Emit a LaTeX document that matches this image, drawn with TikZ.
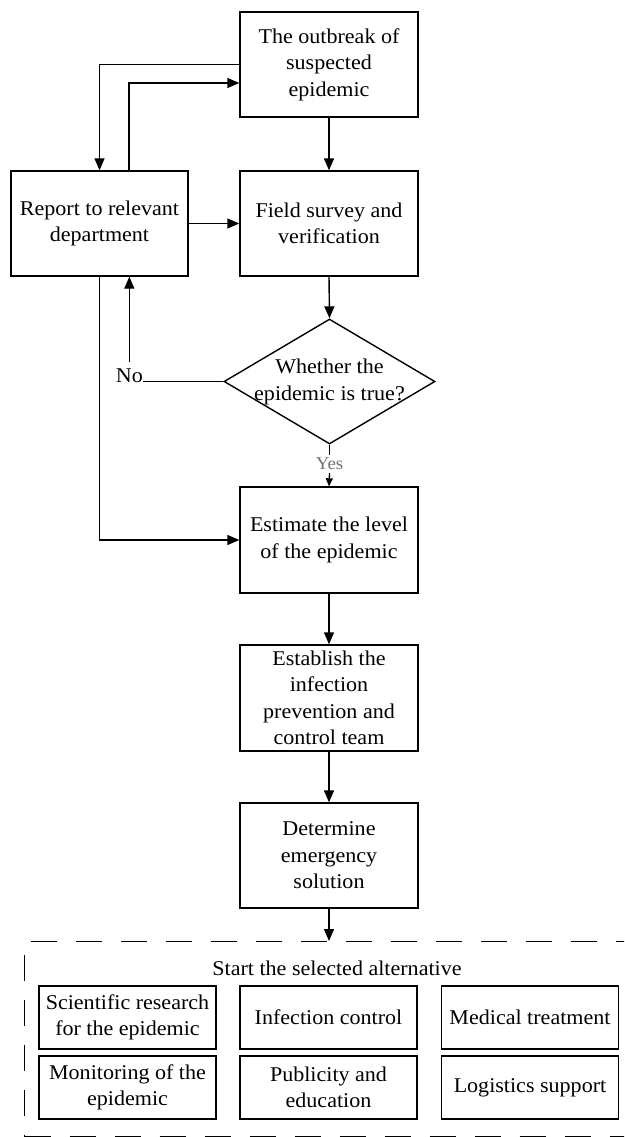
\documentclass[tikz,border=0pt]{standalone}
\usepackage{fontspec}
\setmainfont{Liberation Serif}[FakeStretch=1.05]
\usetikzlibrary{shapes.geometric,arrows.meta}
\begin{document}
\begin{tikzpicture}[x=1pt,y=-1pt,
  font=\fontsize{21}{26.5}\selectfont,
  box/.style={draw, line width=1.4pt, minimum width=178pt, minimum height=105pt, inner sep=0pt, align=center},
  sbox/.style={draw, line width=1.4pt, minimum width=177pt, minimum height=63pt, inner sep=0pt, align=center},
  dshape/.style={draw, diamond, line width=1.4pt, minimum width=211pt, minimum height=125pt, inner sep=0pt},
  arr/.style={line width=1.4pt, -{Triangle[length=12pt,width=10pt]}},
  sarr/.style={line width=1.3pt, -{Triangle[length=8pt,width=7pt]}},
  ln/.style={line width=1.4pt},
  yeslbl/.style={text=black!55, font=\fontsize{18}{20}\selectfont, inner xsep=0pt, inner ysep=3pt},
  altbox/.style={draw, line width=1.4pt, dash pattern=on 26pt off 19pt, minimum width=616pt, minimum height=195pt, inner sep=0pt, anchor=north west}]
\fill[white] (0,0) rectangle (624,1137);
\useasboundingbox (0,0) rectangle (624,1137);
\clip (0,0) rectangle (624,1137);

% main nodes
\node[box] (out) at (329,64.5) {The outbreak of\\suspected\\epidemic};
\node[box, minimum width=177pt] (rep) at (99.5,223.5) {Report to relevant\\department};
\node[box] (fld) at (329,223.5) {Field survey and\\verification};
\node[dshape] (dec) at (329.5,381.5) {};
\node[align=center] (dectxt) at (329.5,382) {Whether the\\epidemic is true?};
\node[anchor=base east, inner sep=0pt] (no) at (143,382) {No};
\node[yeslbl] (yes) at (329.5,464) {Yes};
\node[box, minimum height=106pt] (est) at (329,540) {Estimate the level\\of the epidemic};
\node[box, minimum height=106pt] (estb) at (329,698) {Establish the\\infection\\prevention and\\control team};
\node[box] (detm) at (329,855.5) {Determine\\emergency\\solution};

% alternative group
\node[altbox] (alt) at (24,941) {};
\node (st) at (337,968) {Start the selected alternative};
\node[sbox] (b11) at (127.5,1017.5) {Scientific research\\for the epidemic};
\node[sbox] (b12) at (328.5,1017.5) {Infection control};
\node[sbox] (b13) at (530,1017.5) {Medical treatment};
\node[sbox] (b21) at (127.5,1087.5) {Monitoring of the\\epidemic};
\node[sbox] (b22) at (328.5,1087.5) {Publicity and\\education};
\node[sbox] (b23) at (530,1087.5) {Logistics support};

% connectors
\draw[arr] (out.west) -| (rep.north);
\draw[arr] ([xshift=29.5pt]rep.north) |- ([yshift=-18.5pt]out.west);
\draw[arr] (out.south) -- (fld.north);
\draw[arr] (rep.east) -- (fld.west);
\draw[arr] (fld.south) -- (dec.north);
\draw[ln] (dec.west) -- (dec.west -| no.east);
\draw[arr] ([yshift=6pt]no.north) -- (no.north |- rep.south);
\draw[ln] (dec.south) -- (yes.north);
\draw[sarr] (yes.south) -- (est.north);
\draw[arr] (rep.south) |- (est.west);
\draw[arr] (est.south) -- (estb.north);
\draw[arr] (estb.south) -- (detm.north);
\draw[arr] (detm.south) -- (detm.south |- alt.north);
\end{tikzpicture}
\end{document}
